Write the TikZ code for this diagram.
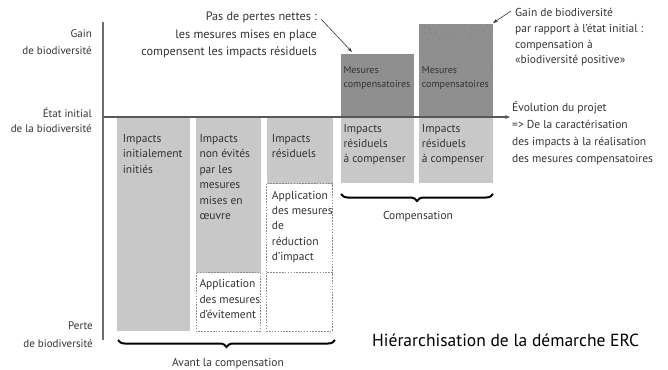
\documentclass[tikz,border=0pt]{standalone}
\usepackage{fontspec}
\setmainfont{PT Sans}
\usetikzlibrary{decorations.pathreplacing,arrows.meta}
\definecolor{ink}{HTML}{333333}
\definecolor{lightbox}{HTML}{C8C8C8}
\definecolor{darkbox}{HTML}{8F8F8F}
\definecolor{axisgray}{HTML}{6E6E6E}
\definecolor{dashgray}{HTML}{8A8A8A}
\begin{document}
\begin{tikzpicture}[x=1pt,y=-1pt,
  % multi-line nodes are placed by the baseline of their last line
  label/.style={text=ink, inner sep=0pt},
  boxtxt/.style={label, align=left, anchor=base west, font=\fontsize{11.5}{15.5}\selectfont},
  smalltxt/.style={label, align=left, anchor=base west, font=\fontsize{10}{14}\selectfont},
  lbox/.style={fill=lightbox},
  dbox/.style={fill=darkbox},
  dashbox/.style={draw=dashgray, dash pattern=on 1.6pt off 1.3pt, line width=0.8pt},
  bracket/.style={decorate, decoration={brace, mirror, amplitude=7pt}, line width=2pt, draw=black},
  pointer/.style={draw=ink, line width=0.6pt, -{Stealth[length=5pt,width=3.5pt]}},
]
\useasboundingbox (0,0) rectangle (668,369);

% --- bars below the initial state
\fill[lbox] (117,118) rectangle (190,331);
\fill[lbox] (196,118) rectangle (260.5,272.5);
\draw[dashbox] (196,272.5) rectangle (260.5,331);
\fill[lbox] (266.5,118) rectangle (332.5,183.5);
\draw[dashbox] (266.5,183.5) rectangle (332.5,272.5);
\draw[dashbox] (266.5,272.5) rectangle (332.5,331);

% --- compensation bars
\fill[dbox] (341,54) rectangle (414,117);
\fill[lbox] (341,117) rectangle (414,183);
\fill[dbox] (418.5,24) rectangle (492.5,117);
\fill[lbox] (418.5,117) rectangle (492.5,183);
% stippled gain area
\pgfmathsetseed{7}
\foreach \i in {1,...,110}{
  \fill[black!55] ({419.5+72*rnd},{25+70*rnd*rnd}) circle (0.35);
}

% --- axes
\draw[axisgray, line width=1.1pt] (103,22) -- (103,340);
\coordinate (axstart) at (103,117);
\coordinate (axend) at (510,117);
\draw[axisgray!80!black, line width=1.1pt, -{Stealth[length=5pt,width=4pt]}] (axstart) -- (axend);

% --- axis labels
\node[label, align=right, anchor=base east, font=\fontsize{11}{17.4}\selectfont] (gainL) at (92,54.7) {Gain\\de biodiversité};
\node[label, align=right, anchor=base east, font=\fontsize{11}{15}\selectfont] (etat) at (92,132.3) {État initial\\de la biodiversité};
\node[label, align=right, anchor=base east, font=\fontsize{11}{17.6}\selectfont] (perte) at (93,347.3) {Perte\\de biodiversité};

% --- texts inside the bars
\node[boxtxt] (t1) at (122.7,173) {Impacts\\initialement\\initiés};
\node[boxtxt] (t2) at (199.3,219.5) {Impacts\\non évités\\par les\\mesures\\mises en\\œuvre};
\node[boxtxt] (t3) at (271.7,157.5) {Impacts\\résiduels};
\node[boxtxt, font=\fontsize{11.5}{15.4}\selectfont] (t3d) at (271.7,260.6) {Application\\des mesures\\de\\réduction\\d’impact};
\node[boxtxt, font=\fontsize{11.5}{15.8}\selectfont] (t2d) at (199.3,318.9) {Application\\des mesures\\d’évitement};
\node[smalltxt] (m4) at (343.3,87) {Mesures\\compensatoires};
\node[smalltxt] (m5) at (421.7,87) {Mesures\\compensatoires};
\node[boxtxt, font=\fontsize{11.5}{15}\selectfont] (r4) at (343.3,162.3) {Impacts\\résiduels\\à compenser};
\node[boxtxt, font=\fontsize{11.5}{15}\selectfont] (r5) at (421.7,162.3) {Impacts\\résiduels\\à compenser};

% --- annotations
\node[label, align=right, anchor=base east, font=\fontsize{12.2}{17.5}\selectfont] (pas) at (317,55.7) {Pas de pertes nettes :\\les mesures mises en place\\compensent les impacts résiduels};
\coordinate (pasfrom) at (321,19);
\coordinate (pasto) at (352,52);
\draw[pointer] (pasfrom) -- (pasto);

\node[label, align=left, anchor=base west, font=\fontsize{11.5}{15.7}\selectfont] (gainR) at (515,63.8) {Gain de biodiversité\\par rapport à l’état initial :\\compensation à\\«biodiversité positive»};
\coordinate (gainfrom) at (511,11);
\coordinate (gainto) at (493,23);
\draw[pointer] (gainfrom) -- (gainto);

\node[label, align=left, anchor=base west, font=\fontsize{11.5}{17.3}\selectfont] (evo) at (512,162.9) {Évolution du projet\\=> De la caractérisation\\des impacts à la réalisation\\des mesures compensatoires};

% --- braces
\coordinate (avA) at (118,340);
\coordinate (avB) at (335,340);
\draw[bracket] (avA) -- (avB);
\node[label, anchor=base, font=\fontsize{11.5}{14}\selectfont] (avant) at (228,366) {Avant la compensation};
\coordinate (coA) at (341,194);
\coordinate (coB) at (493,194);
\draw[bracket] (coA) -- (coB);
\node[label, anchor=base, font=\fontsize{11.5}{14}\selectfont] (comp) at (418,219) {Compensation};

\node[label, text=black, anchor=base west, font=\fontsize{17.5}{20}\selectfont] (hier) at (372,346) {Hiérarchisation de la démarche ERC};
\end{tikzpicture}
\end{document}
